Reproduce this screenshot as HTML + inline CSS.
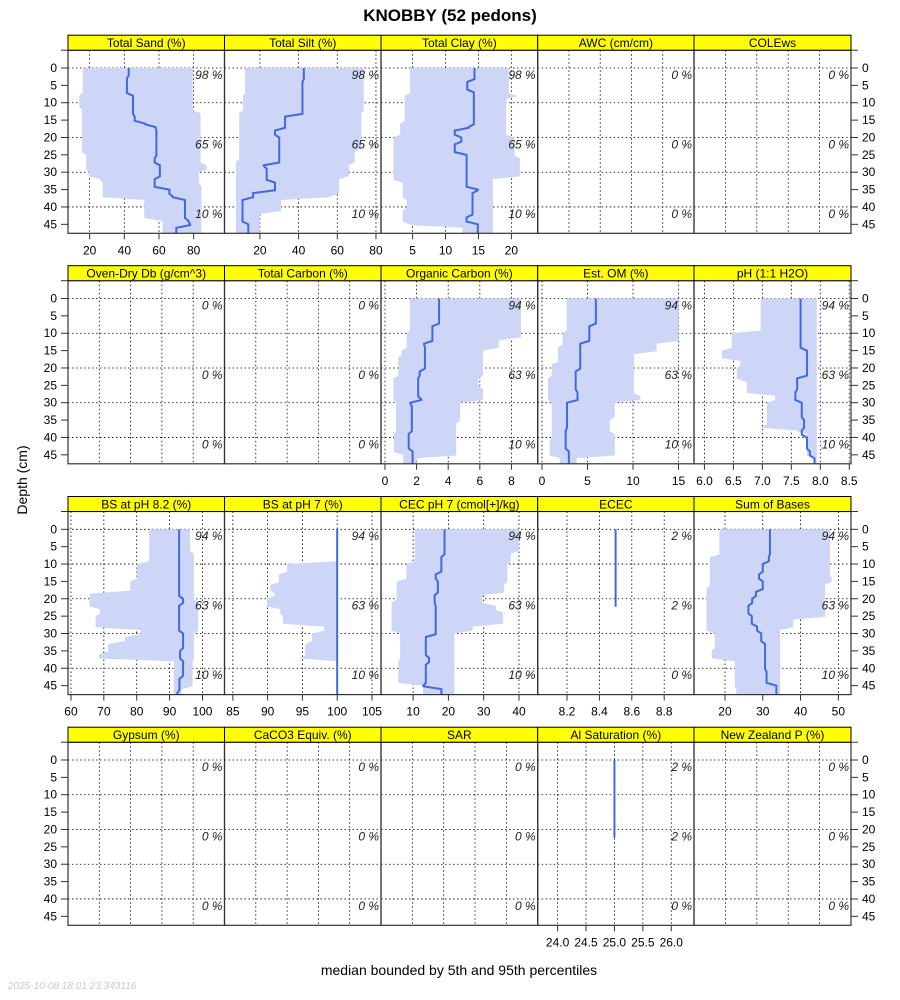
<!DOCTYPE html>
<html><head><meta charset="utf-8"><style>
html,body{margin:0;padding:0;background:#fff;width:900px;height:1000px;overflow:hidden}
svg{display:block;font-family:"Liberation Sans",Arial,sans-serif}
</style></head><body>
<svg id="chart" width="900" height="1000" viewBox="0 0 900 1000" xmlns="http://www.w3.org/2000/svg">
<text x="450" y="21" text-anchor="middle" font-size="17" font-weight="bold">KNOBBY (52 pedons)</text>
<text transform="translate(27,480) rotate(-90)" text-anchor="middle" font-size="14">Depth (cm)</text>
<text x="459" y="975" text-anchor="middle" font-size="14">median bounded by 5th and 95th percentiles</text>
<text x="8" y="989" font-size="10" font-style="italic" fill="#c8c8c8">2025-10-08 18:01:23.343116</text>
<g id="panels"></g>
</svg>
<script>
// ---- data (step profiles: segment start depths and values) ----
const sandLoD=[0,8,12,25,30,32,33,38,44], sandLo=[16,14,15.5,18,19.5,26,27.5,51.5,62];
const sandHiD=[0,13,28,30,34], sandHi=[79.5,84,87.5,83,84.5];
const sandMedD=[0,3,8,14,16,17,18,26,28,32,35,37,38,44,45,46], sandMed=[42.5,41.5,45,46,52,58,58.5,57.5,60.5,57.5,66,68,75,77,78,70];
const siltLoD=[0,8,13,27], siltLo=[12.3,11.3,9.3,7.6];
const siltHiD=[0,13,24,28,32,37,38,42], siltHi=[73.7,72.5,69,66,61,56,31,20];
const siltMedD=[0,4,14,18,20,28,29,33,36,38,45], siltMed=[42.7,42,33,27.8,30,22,23.5,27.8,16.5,11,14];
const clayLoD=[0,8,16,20,33,38,41,45,46], clayLo=[4.6,3.8,3.1,2.1,3.5,4.1,3.5,4.6,12.6];
const clayHiD=[0,8,9,20,26,32], clayHi=[19.6,20.8,19.2,20.5,21.3,17.2];
const clayMedD=[0,4,7,17,18,20,22,25,35,36,43,45], clayMed=[14.4,13.3,14.3,13.5,11.4,12.4,11.4,13.2,14.9,14.1,13.2,14.9];
const ocLoD=[0,10,15,17,23,30,39,45], ocLo=[1.58,1.37,1.05,0.84,0.53,0.7,0.57,1.16];
const ocHiD=[0,12,15,23,26,30,36,46], ocHi=[8.6,7.2,6.2,5.9,6.2,4.75,4.5,2.0];
const ocMedD=[0,8,13,14,21,23,29,30,31,39,44], ocMed=[3.42,3.0,2.47,2.53,2.2,2.1,2.3,1.6,1.7,1.5,1.75];
const omLoD=[0,10,14,19,23,30,41,46], omLo=[2.7,2.25,1.76,1.07,0.66,1.07,0.85,1.95];
const omHiD=[0,13,16,28,30,35,39,46], omHi=[15,12.6,10.1,10.8,8.0,7.45,8.0,3.8];
const omMedD=[0,8,13,21,27,30,38,44], omMed=[5.92,5.2,4.2,3.7,3.9,2.75,2.6,2.95];
const phLoD=[0,10,15,18,20,24,28,30,37,38,39,46], phLo=[6.97,6.47,6.3,6.62,6.56,6.73,7.22,7.08,6.99,7.6,7.77,7.88];
const phHiD=[0], phHi=[7.94];
const phMedD=[0,15,23,27,30,35,38,40,44,46], phMed=[7.66,7.77,7.6,7.57,7.68,7.72,7.68,7.77,7.82,7.9];
const bs82LoD=[0,10,15,18.5,23,25,29,31,33,36,38], bs82Lo=[83.8,80,78,65.6,68.8,67.5,81.2,76.4,71.3,68.5,91.3];
const bs82HiD=[0,7,21,30,38,46], bs82Hi=[96.2,97.4,98.7,97.4,97,93.6];
const bs82MedD=[0,20,22,30,35,38,43,47], bs82Med=[92.9,94.1,92.9,94.1,93.2,94.1,93,92.4];
const bs7LoD=[0,10,13,16,18.5,20,23,25,28,30,33,37,38], bs7Lo=[100,92.8,91.6,90.4,91,89.9,91.8,92.2,98.1,96.4,95.4,94.7,100];
const bs7HiD=[0], bs7Hi=[100];
const bs7MedD=[0], bs7Med=[100];
const cecLoD=[0,10,15,21,30,38,45], cecLo=[10.5,8.1,5.3,3.9,6.3,5.8,12.8];
const cecHiD=[0,7,10,16,19,22,24,28,30], cecHi=[40,37.7,36.7,35.8,29.7,33.5,35.5,26.9,21.7];
const cecMedD=[0,8,13,15,19,22,31,37,39,45,46], cecMed=[18.9,18,16.4,17,16.1,16.4,13.6,14.5,13.6,12.9,18];
const ececMedD=[0], ececMed=[8.5];
const sbLoD=[0,8,17,30,35,38,46], sbLo=[18.5,16,15.1,17.3,16.5,22.6,23];
const sbHiD=[0,14,16,26,29], sbHi=[47.8,48.2,46.5,38.1,34.6];
const sbMedD=[0,8,10,13,15,18,20,22,25,28,30,33,41,45], sbMed=[31.9,31.6,30,29,30,28.2,27.2,26.2,27.1,28.5,29.6,30.6,31,33.6];
const alMedD=[0], alMed=[25];
const depthTicks=[0,5,10,15,20,25,30,35,40,45];
const pctLabels=[["98 %","65 %","10 %"],["94 %","63 %","10 %"],["2 %","2 %","0 %"],["0 %","0 %","0 %"]];

const panels=[
 {t:"Total Sand (%)",r:0,c:0,x:[7.5,97.8],ticks:[20,40,60,80],lo:[sandLoD,sandLo],hi:[sandHiD,sandHi],med:[sandMedD,sandMed],p:0},
 {t:"Total Silt (%)",r:0,c:1,x:[1.7,82.6],ticks:[20,40,60,80],lo:[siltLoD,siltLo],hi:[siltHiD,siltHi],med:[siltMedD,siltMed],p:0},
 {t:"Total Clay (%)",r:0,c:2,x:[0.2,24.0],ticks:[5,10,15,20],lo:[clayLoD,clayLo],hi:[clayHiD,clayHi],med:[clayMedD,clayMed],p:0},
 {t:"AWC (cm/cm)",r:0,c:3,p:3},
 {t:"COLEws",r:0,c:4,p:3},
 {t:"Oven-Dry Db (g/cm^3)",r:1,c:0,p:3},
 {t:"Total Carbon (%)",r:1,c:1,p:3},
 {t:"Organic Carbon (%)",r:1,c:2,x:[-0.25,9.66],ticks:[0,2,4,6,8],lo:[ocLoD,ocLo],hi:[ocHiD,ocHi],med:[ocMedD,ocMed],p:1},
 {t:"Est. OM (%)",r:1,c:3,x:[-0.47,16.7],ticks:[0,5,10,15],lo:[omLoD,omLo],hi:[omHiD,omHi],med:[omMedD,omMed],p:1},
 {t:"pH (1:1 H2O)",r:1,c:4,x:[5.82,8.53],ticks:[6,6.5,7,7.5,8,8.5],dec:1,lo:[phLoD,phLo],hi:[phHiD,phHi],med:[phMedD,phMed],p:1},
 {t:"BS at pH 8.2 (%)",r:2,c:0,x:[59.1,106.7],ticks:[60,70,80,90,100],lo:[bs82LoD,bs82Lo],hi:[bs82HiD,bs82Hi],med:[bs82MedD,bs82Med],p:1},
 {t:"BS at pH 7 (%)",r:2,c:1,x:[83.8,106.3],ticks:[85,90,95,100,105],lo:[bs7LoD,bs7Lo],hi:[bs7HiD,bs7Hi],med:[bs7MedD,bs7Med],p:1},
 {t:"CEC pH 7 (cmol[+]/kg)",r:2,c:2,x:[0.9,45.3],ticks:[10,20,30,40],lo:[cecLoD,cecLo],hi:[cecHiD,cecHi],med:[cecMedD,cecMed],p:1},
 {t:"ECEC",r:2,c:3,x:[8.019,8.984],ticks:[8.2,8.4,8.6,8.8],dec:1,med:[ececMedD,ececMed],medEnd:22.3,p:2},
 {t:"Sum of Bases",r:2,c:4,x:[11.8,53.35],ticks:[20,30,40,50],lo:[sbLoD,sbLo],hi:[sbHiD,sbHi],med:[sbMedD,sbMed],p:1},
 {t:"Gypsum (%)",r:3,c:0,p:3},
 {t:"CaCO3 Equiv. (%)",r:3,c:1,p:3},
 {t:"SAR",r:3,c:2,p:3},
 {t:"Al Saturation (%)",r:3,c:3,x:[23.65,26.4],ticks:[24,24.5,25,25.5,26],dec:1,med:[alMedD,alMed],medEnd:22.4,p:2},
 {t:"New Zealand P (%)",r:3,c:4,p:3}
];

const NS="http://www.w3.org/2000/svg";
const colE=[68,224.5,381,537.7,694,851];
const rowZ=[68,298.5,529.3,760];
const PXCM=3.474, MAXD=48;
const root=document.getElementById('panels');
function mk(tag,attrs,parent){const e=document.createElementNS(NS,tag);for(const k in attrs)e.setAttribute(k,attrs[k]);(parent||root).appendChild(e);return e;}
function stepPts(D,V,end,xs,ys){const pts=[];for(let i=0;i<D.length;i++){const s=D[i];const e=i<D.length-1?D[i+1]-0.8:end;pts.push([xs(V[i]),ys(s)]);pts.push([xs(V[i]),ys(e)]);}return pts;}

panels.forEach((P,idx)=>{
  const L=colE[P.c],R=colE[P.c+1],z=rowZ[P.r],T=z-17.8,B=z+165.3;
  const ys=d=>z+d*PXCM;
  const g=mk('g',{});
  
  
  const cid='clip'+idx;
  const cp=mk('clipPath',{id:cid},g);mk('rect',{x:L,y:T,width:R-L,height:B-T},cp);
  const gridG=mk('g',{stroke:'#000','stroke-width':0.8,'stroke-dasharray':'1.5,2.5'},g);
  
  
  [0,10,20,30,40].forEach(d=>mk('line',{x1:L,x2:R,y1:ys(d),y2:ys(d)},gridG));
  let xs=null;
  if(P.x){xs=v=>L+(v-P.x[0])/(P.x[1]-P.x[0])*(R-L);P.ticks.forEach(t=>mk('line',{x1:xs(t),x2:xs(t),y1:T,y2:B},gridG));}
  else{for(let k=1;k<5;k++){const x=L+k*(R-L)/5;mk('line',{x1:x,x2:x,y1:T,y2:B},gridG);}}
  const cg=mk('g',{'clip-path':'url(#'+cid+')'},g);
  if(P.lo){
    const lo=stepPts(P.lo[0],P.lo[1],MAXD,xs,ys),hi=stepPts(P.hi[0],P.hi[1],MAXD,xs,ys).reverse();
    const band=mk('polygon',{points:lo.concat(hi).map(p=>p.join(',')).join(' '),fill:'#cdd6f6',stroke:'none'},cg);
    
    
  }
  if(P.med){
    const pts=stepPts(P.med[0],P.med[1],P.medEnd||MAXD,xs,ys);
    const med=mk('polyline',{points:pts.map(p=>p.join(',')).join(' '),fill:'none',stroke:'#4169e1','stroke-width':2},cg);
    
    
  }
  pctLabels[P.p].forEach((s,i)=>{const tx=mk('text',{x:R-2,y:ys(2+20*i)+4,'text-anchor':'end','font-size':12,'font-style':'italic',fill:'#222'},g);tx.textContent=s;
    
    });
  mk('rect',{x:L,y:T,width:R-L,height:B-T,fill:'none',stroke:'#333','stroke-width':1.2},g);
  const st=mk('rect',{x:L,y:T-15,width:R-L,height:15,fill:'#ffff00',stroke:'#000','stroke-width':1},g);
  
  
  const stt=mk('text',{x:(L+R)/2,y:T-3,'text-anchor':'middle','font-size':12},g);stt.textContent=P.t;
  
  
  if(P.x){P.ticks.forEach(t=>{const x=xs(t);mk('line',{x1:x,x2:x,y1:B,y2:B+6,stroke:'#333'},g);
    const tl=mk('text',{x:x,y:B+21,'text-anchor':'middle','font-size':12},g);tl.textContent=P.dec?t.toFixed(1):String(t);
    
    });}
});
rowZ.forEach((z,r)=>{
  const T=z-17.8,B=z+165.3;
  const ax=mk('g',{});
  
  
  mk('line',{x1:61,x2:68,y1:T,y2:T,stroke:'#333'},ax);
  mk('line',{x1:851,x2:858,y1:T,y2:T,stroke:'#333'},ax);
  depthTicks.forEach(d=>{const y=z+d*PXCM;
    mk('line',{x1:61,x2:68,y1:y,y2:y,stroke:'#333'},ax);
    mk('line',{x1:851,x2:858,y1:y,y2:y,stroke:'#333'},ax);
    const a=mk('text',{x:57,y:y+4,'text-anchor':'end','font-size':12},ax);a.textContent=d;
    const b=mk('text',{x:862,y:y+4,'font-size':12},ax);b.textContent=d;});
});
</script>
</body></html>
